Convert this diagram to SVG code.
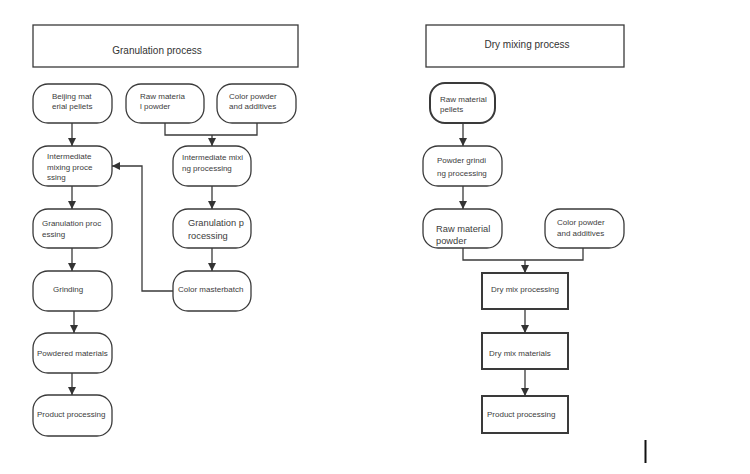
<svg xmlns="http://www.w3.org/2000/svg" width="750" height="474" viewBox="0 0 750 474">
<style>
.n{fill:#fff;stroke:#3a3a3a;stroke-width:1.3}
.b{fill:#fff;stroke:#3a3a3a;stroke-width:2}
.t{font-family:"Liberation Sans",Arial,sans-serif;font-size:8px;fill:#3c3c3c}
.tl{font-family:"Liberation Sans",Arial,sans-serif;font-size:9.3px;fill:#3c3c3c}
.tt{font-family:"Liberation Sans",Arial,sans-serif;font-size:10px;fill:#333;text-anchor:middle}
.c{fill:none;stroke:#3a3a3a;stroke-width:1.3}
</style>
<defs>
<marker id="a" viewBox="0 0 10 10" refX="10" refY="5" markerWidth="8" markerHeight="8" markerUnits="userSpaceOnUse" orient="auto">
<path d="M0,0 L10,5 L0,10 z" fill="#333"/>
</marker>
</defs>
<rect width="750" height="474" fill="#fff"/>
<g id="title-granulation"><rect class="n" x="33" y="25" width="265" height="42"/><text class="tt" x="157" y="54">Granulation process</text></g>
<g id="title-dry"><rect class="n" x="426" y="25" width="198" height="42"/><text class="tt" x="527" y="48">Dry mixing process</text></g>

<g id="beijing"><rect class="n" x="33" y="84" width="79" height="39" rx="15"/><text class="t" x="52" y="99">Beijing mat</text><text class="t" x="52" y="109">erial pellets</text></g>
<g id="raw-powder-l"><rect class="n" x="126" y="84" width="78" height="39" rx="15"/><text class="t" x="140" y="99">Raw materia</text><text class="t" x="140" y="109">l powder</text></g>
<g id="color-l"><rect class="n" x="217" y="84" width="79" height="39" rx="15"/><text class="t" x="229" y="99">Color powder</text><text class="t" x="229" y="109">and additives</text></g>
<g id="inter-l"><rect class="n" x="33" y="146" width="79" height="40" rx="15"/><text class="t" x="47" y="159">Intermediate</text><text class="t" x="47" y="170">mixing proce</text><text class="t" x="47" y="180">ssing</text></g>
<g id="inter-r"><rect class="n" x="173" y="146" width="78" height="40" rx="15"/><text class="t" x="182" y="160">Intermediate mixi</text><text class="t" x="182" y="171">ng processing</text></g>
<g id="gran-l"><rect class="n" x="33" y="209" width="79" height="39" rx="15"/><text class="t" x="42" y="226">Granulation proc</text><text class="t" x="42" y="237">essing</text></g>
<g id="gran-r"><rect class="n" x="173" y="209" width="78" height="39" rx="15"/><text class="tl" x="188" y="226">Granulation p</text><text class="tl" x="188" y="239">rocessing</text></g>
<g id="grinding"><rect class="n" x="33" y="271" width="79" height="40" rx="15"/><text class="t" x="53" y="292">Grinding</text></g>
<g id="masterbatch"><rect class="n" x="173" y="271" width="78" height="40" rx="15"/><text class="t" x="178" y="292">Color masterbatch</text></g>
<g id="powdered"><rect class="n" x="33" y="333" width="79" height="40" rx="15"/><text class="t" x="37" y="356">Powdered materials</text></g>
<g id="product-l"><rect class="n" x="33" y="395" width="79" height="41" rx="15"/><text class="t" x="37" y="417">Product processing</text></g>

<g id="pellets"><rect class="b" x="430" y="83" width="65" height="40" rx="15"/><text class="t" x="440" y="102">Raw material</text><text class="t" x="440" y="112">pellets</text></g>
<g id="pgrind"><rect class="n" x="423" y="146" width="79" height="40" rx="15"/><text class="t" x="437" y="163">Powder grindi</text><text class="t" x="437" y="176">ng processing</text></g>
<g id="raw-powder-r"><rect class="n" x="423" y="209" width="79" height="39" rx="15"/><text class="tl" x="436" y="232">Raw material</text><text class="tl" x="436" y="244">powder</text></g>
<g id="color-r"><rect class="n" x="545" y="209" width="79" height="39" rx="15"/><text class="t" x="557" y="225">Color powder</text><text class="t" x="557" y="236">and additives</text></g>
<g id="drymix"><rect class="b" x="482" y="273" width="86" height="36"/><text class="t" x="491" y="292">Dry mix processing</text></g>
<g id="drymat"><rect class="b" x="482" y="333" width="86" height="36"/><text class="t" x="489" y="356">Dry mix materials</text></g>
<g id="product-r"><rect class="b" x="482" y="396" width="86" height="37"/><text class="t" x="487" y="417">Product processing</text></g>

<g id="connectors">
<path class="c" d="M72,123 V146" marker-end="url(#a)"/>
<path class="c" d="M165,123 V135 H257 V123"/>
<path class="c" d="M212,135 V146" marker-end="url(#a)"/>
<path class="c" d="M72,186 V209" marker-end="url(#a)"/>
<path class="c" d="M212,186 V209" marker-end="url(#a)"/>
<path class="c" d="M72,248 V271" marker-end="url(#a)"/>
<path class="c" d="M212,248 V271" marker-end="url(#a)"/>
<path class="c" d="M173,291 H142 V166 H112" marker-end="url(#a)"/>
<path class="c" d="M74,311 V333" marker-end="url(#a)"/>
<path class="c" d="M72,373 V395" marker-end="url(#a)"/>
<path class="c" d="M463,123 V146" marker-end="url(#a)"/>
<path class="c" d="M463,186 V209" marker-end="url(#a)"/>
<path class="c" d="M463,248 V260 H583 V248"/>
<path class="c" d="M525,260 V273" marker-end="url(#a)"/>
<path class="c" d="M525,309 V333" marker-end="url(#a)"/>
<path class="c" d="M525,369 V396" marker-end="url(#a)"/>
</g>
<line x1="645.5" y1="440" x2="645.5" y2="463" stroke="#111" stroke-width="2"/>
</svg>
